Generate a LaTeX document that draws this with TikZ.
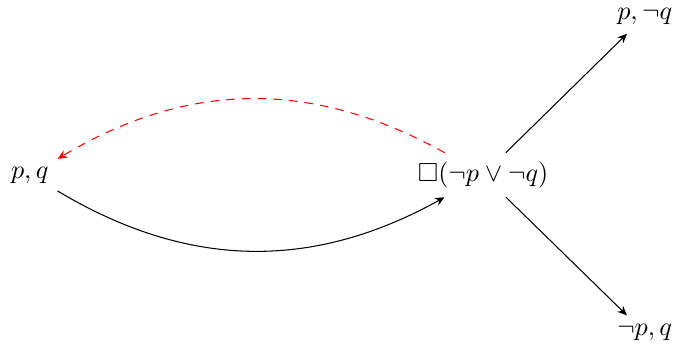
\documentclass[tikz,border=0pt]{standalone}
\usepackage{amsmath,amssymb}
\usepackage{tikz}
\usetikzlibrary{arrows.meta}
\usepackage{xcolor}

\begin{document}
\begin{tikzpicture}[>={Stealth[length=3.6pt,width=3.2pt]},line cap=round]
\useasboundingbox (0,0) rectangle (9.04,4.69);
\node (pq) at (0.40,2.34) {$p, q$};
\node (box) at (6.49,2.34) {$\Box(\neg p \vee \neg q)$};
\node (pnq) at (8.66,4.47) {$p, \neg q$};
\node (npq) at (8.66,0.22) {$\neg p, q$};
\draw[->] (pq) to[bend right=30] (box);
\draw[->,red,dashed] (box) to[bend right=30] (pq);
\draw[->] (box) -- (pnq);
\draw[->] (box) -- (npq);
\end{tikzpicture}
\end{document}
